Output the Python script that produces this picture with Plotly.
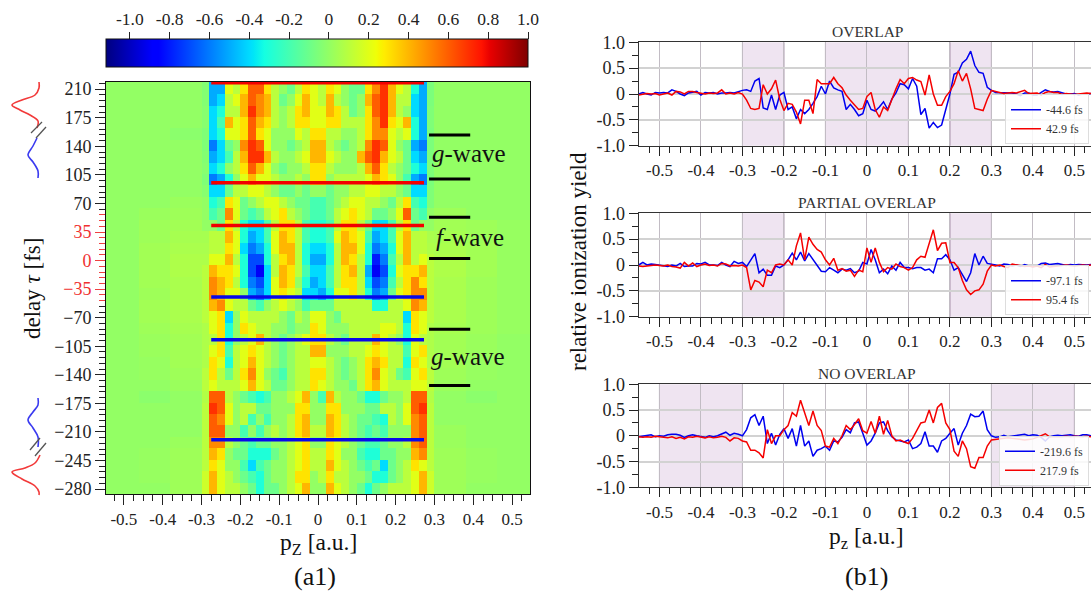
import plotly.graph_objects as go

W, H = 1091, 592
FONT = "Liberation Serif"
INK = "#222222"

# ---------- heatmap data (values in tenths) ----------
pz_edges = [-0.546, -0.46, -0.38, -0.30, -0.28, -0.26, -0.24, -0.22, -0.20, -0.18, -0.16, -0.14, -0.12, -0.10, -0.08,
            -0.06, -0.04, -0.02, 0.0, 0.02, 0.04, 0.06, 0.08, 0.10, 0.12, 0.14, 0.16, 0.18, 0.20, 0.22, 0.24, 0.26,
            0.28, 0.30, 0.38, 0.46, 0.546]
delay_edges = [218.8, 204, 190, 176, 162, 148, 134, 120, 106, 92, 78, 64, 50, 36, 22, 8, -6, -20, -34, -48, -62, -76,
               -90, -104, -118, -132, -146, -160, -174, -188, -202, -216, -230, -244, -258, -272, -286]
inner_rows = [
    [-5,-5,2,1,3,6,6,3,1,0,-1,1,3,2,1,3,2,0,-1,-1,3,5,7,4,2,1,-3,-5],
    [-5,-4,1,2,4,6,5,4,1,-1,0,2,4,2,1,4,1,0,-1,0,4,6,7,4,1,1,-4,-5],
    [-4,-3,1,1,4,7,5,4,1,0,1,3,4,2,2,4,3,1,-1,0,3,6,7,4,1,0,-4,-5],
    [-4,-2,4,2,3,6,4,3,1,0,1,3,3,2,2,3,3,1,1,1,3,5,7,3,2,4,-3,-5],
    [-4,-3,2,2,3,6,3,2,0,0,0,2,1,3,3,1,1,0,0,1,3,5,5,2,1,2,-3,-5],
    [-6,-4,-1,0,5,7,6,2,0,0,-1,0,1,4,4,1,0,-1,0,1,5,7,6,2,0,-1,-5,-6],
    [-5,-4,-2,1,4,7,7,4,1,0,0,1,2,4,4,2,1,0,0,4,6,7,4,2,1,-1,-4,-5],
    [-4,-3,0,1,3,6,4,2,0,-1,0,0,1,3,3,1,0,0,0,1,4,6,3,1,0,-1,-3,-4],
    [-6,-5,-3,0,2,4,2,2,1,0,0,1,0,3,3,0,1,1,1,1,2,4,3,2,0,-2,-5,-6],
    [-4,-4,-1,1,1,2,2,1,0,-1,-1,0,-1,0,0,-1,0,0,1,1,2,2,1,1,0,-1,-4,-4],
    [-3,-2,3,2,-1,0,1,2,2,1,0,-1,-1,-2,-2,-1,0,1,2,2,1,1,0,-1,1,3,-2,-3],
    [-2,-1,5,2,-1,-2,-1,1,2,3,1,0,-1,-2,-2,-1,1,2,3,2,1,-1,-1,0,2,6,-1,-2],
    [0,-1,3,1,-3,-4,-4,-2,1,3,3,1,-2,-3,-3,-2,1,3,3,1,-1,-4,-4,-2,1,3,-1,0],
    [1,1,4,2,-3,-5,-4,-2,2,4,3,1,-2,-3,-3,-2,2,4,3,2,-2,-5,-4,-2,2,4,1,1],
    [1,1,3,2,-4,-6,-5,-3,2,4,4,1,-3,-4,-4,-3,1,4,4,2,-3,-6,-5,-3,2,4,1,1],
    [2,2,4,1,-3,-7,-7,-3,1,3,4,1,-3,-5,-5,-3,1,4,3,1,-3,-8,-6,-2,1,4,1,2],
    [4,3,3,2,-3,-7,-9,-4,1,4,3,1,-2,-4,-4,-2,1,3,4,1,-5,-9,-7,-3,2,3,3,4],
    [5,4,3,1,-3,-6,-7,-4,2,4,3,0,-3,-5,-4,-2,1,3,3,1,-4,-7,-6,-2,1,3,5,3],
    [5,4,2,2,0,-5,-6,-4,2,3,2,1,-4,-4,-5,-3,2,2,3,1,-3,-6,-5,-1,2,3,5,5],
    [4,5,2,1,1,-1,-2,0,1,2,1,0,-2,-1,-1,-1,1,1,1,1,1,-3,-3,1,1,2,5,4],
    [2,3,-4,0,2,1,1,1,1,0,-1,1,0,2,2,0,-1,1,1,1,1,1,1,1,1,-4,3,2],
    [2,3,-3,0,3,2,1,1,0,0,-1,0,0,3,2,0,0,0,1,1,1,1,2,2,1,-3,3,2],
    [1,3,-3,0,1,2,4,1,0,-1,0,1,2,3,3,1,0,-1,1,1,1,4,2,1,0,-3,2,1],
    [2,3,-2,1,2,3,2,1,0,-1,0,1,1,4,4,0,0,0,1,1,2,3,2,1,1,-2,2,3],
    [3,2,-3,1,2,4,2,1,0,-1,0,1,1,2,2,1,0,-1,0,1,3,4,3,1,1,-3,3,2],
    [3,1,-1,1,3,5,2,0,-1,-2,0,1,1,3,3,1,0,-1,0,1,3,5,2,1,-1,-2,2,3],
    [2,1,1,1,2,4,2,1,-1,-1,0,1,1,3,2,1,0,0,-1,1,3,4,2,1,1,1,2,2],
    [6,6,1,0,-1,-2,-3,-2,0,0,1,2,4,0,-2,4,1,0,0,-1,-3,-3,-1,0,0,1,6,6],
    [7,6,2,0,1,1,-1,-1,0,0,0,3,3,0,0,3,3,0,0,0,-1,-1,1,1,0,2,6,7],
    [6,5,2,0,1,-2,0,-2,0,0,1,3,4,0,0,4,3,1,0,-1,-1,-2,-3,1,0,2,5,6],
    [6,6,0,0,-2,0,-2,0,1,0,1,3,4,1,1,4,3,1,0,-1,-2,-1,-2,0,0,0,5,6],
    [5,5,1,0,-1,-2,-1,-1,0,0,1,2,3,0,0,3,2,1,0,-1,-2,-2,-1,0,0,1,5,6],
    [4,3,0,-1,-1,-3,-3,-3,-1,0,1,2,3,1,1,3,2,0,0,-2,-3,-3,-1,-1,0,0,4,5],
    [3,2,0,0,-2,-4,-2,-1,0,0,1,2,3,1,1,4,2,1,0,-1,-2,-1,-4,-1,0,1,3,2],
    [4,2,1,0,-1,-2,-3,-1,0,0,1,3,3,0,1,3,1,1,0,0,-1,-3,-3,-1,0,1,2,4],
    [4,2,1,1,0,-1,-3,-1,-1,0,1,2,4,0,0,4,2,1,0,-1,-3,-1,0,1,1,1,2,4],
]
bg_left = [
    [0,0,0,-.4],[0,0,0,-.4],[0,0,0,-.3],[0,0,0,-.3],[0,0,-.2,-.5],[0,0,0,-.5],[0,0,0,-.4],[0,0,0,-.3],[0,0,0,-.5],[0,0,0,-.3],
    [0,0,.2,0],[0,.2,.3,0],[0,.3,.4,0],[0,.3,.5,.5],[0,.4,.6,.6],[0,.4,.7,.7],[0,.4,.7,1],[0,.4,.6,1],[0,.3,.6,1],[0,.4,.6,1],
    [0,.4,.6,1],[0,.3,.5,.7],[0,.2,.4,.7],[0,.2,.4,.7],[0,.1,.4,.7],[0,.1,.3,1],[0,0,.2,1],[0,-.2,0,.8],[0,0,0,1],[0,0,0,1],
    [0,0,0,1],[0,0,.2,1],[0,.1,.3,1],[0,.1,.3,1],[0,.1,.3,1.5],[0,0,.3,1.5],
]
bg_right = [
    [-.6,0,0,0],[-.6,0,0,0],[-.5,0,0,0],[-.5,0,0,0],[-.6,0,0,0],[-.6,0,0,0],[-.6,0,0,0],[-.5,0,0,0],[-.6,0,0,0],[-.5,0,0,0],
    [-.5,0,0,0],[0,.3,0,0],[0,.4,.3,.1],[.6,.5,.3,.1],[.7,.6,.4,.1],[1,.7,.4,.1],[1,.7,.4,.1],[1,.6,.3,.1],[1,.6,.3,.1],[1,.6,.3,.1],
    [1,.6,.3,.1],[.7,.5,.3,.1],[.7,.4,.2,0],[.7,.4,.2,0],[.7,.4,.1,0],[1,.3,.1,0],[1,.2,0,0],[.8,0,-.2,0],[1,0,0,0],[1,0,0,0],
    [1,.2,0,0],[1,.2,0,0],[1,.3,.1,0],[1,.3,.1,0],[1.5,.3,.1,0],[1.5,.3,0,0],
]
colorbar_ticks = [-1.0, -0.8, -0.6, -0.4, -0.2, 0, 0.2, 0.4, 0.6, 0.8, 1.0]
colorbar_labels = ["-1.0", "-0.8", "-0.6", "-0.4", "-0.2", "0", "0.2", "0.4", "0.6", "0.8", "1.0"]
jet = [[0, "rgb(0,0,127)"], [0.11, "rgb(0,0,255)"], [0.125, "rgb(0,0,255)"], [0.34, "rgb(0,219,255)"],
       [0.35, "rgb(0,230,247)"], [0.375, "rgb(20,255,226)"], [0.64, "rgb(239,255,8)"], [0.65, "rgb(248,245,0)"],
       [0.66, "rgb(255,236,0)"], [0.89, "rgb(255,19,0)"], [0.91, "rgb(232,0,0)"], [1, "rgb(127,0,0)"]]

delays_blue = [-44.6, -97.1, -219.6]
delays_red = [42.9, 95.4, 217.9]
line_span = [-0.275, 0.273]
wave_marks = [154, 100, 53, 2.5, -84, -153]
wave_mark_span = [0.286, 0.392]

delay_ticks_dark = [210, 175, 140, 105, 70, -70, -105, -140, -175, -210, -245, -280]
delay_labels_dark = ["210", "175", "140", "105", "70", "\u221270", "\u2212105", "\u2212140", "\u2212175", "\u2212210",
                     "\u2212245", "\u2212280"]
delay_ticks_red = [35, 0, -35]
delay_labels_red = ["35", "0", "\u221235"]
delay_minor_red = [56, 49, 42, 28, 21, 14, 7, -7, -14, -21, -28, -42, -49]
delay_minor_dark = [217, 203, 196, 189, 182, 168, 161, 154, 147, 133, 126, 119, 112, 98, 91, 84, 77, 63,
                    -56, -63, -77, -84, -91, -98, -112, -119, -126, -133, -147, -154, -161, -168, -182, -189, -196,
                    -203, -217, -224, -231, -238, -252, -259, -266, -273]

pz_ticks = [-0.5, -0.4, -0.3, -0.2, -0.1, 0, 0.1, 0.2, 0.3, 0.4, 0.5]
pz_labels = ["-0.5", "-0.4", "-0.3", "-0.2", "-0.1", "0", "0.1", "0.2", "0.3", "0.4", "0.5"]
pz_minor = [-0.525, -0.475, -0.45, -0.425, -0.375, -0.35, -0.325, -0.275, -0.25, -0.225, -0.175, -0.15, -0.125,
            -0.075, -0.05, -0.025, 0.025, 0.05, 0.075, 0.125, 0.15, 0.175, 0.225, 0.25, 0.275, 0.325, 0.35, 0.375,
            0.425, 0.45, 0.475, 0.525]
yield_ticks = [-1.0, -0.5, 0, 0.5, 1.0]
yield_labels = ["-1.0", "-0.5", "0", "0.5", "1.0"]
yield_minor = [-0.75, -0.25, 0.25, 0.75]

# ---------- line data ----------
pz = [-0.55, -0.54, -0.53, -0.52, -0.51, -0.50, -0.49, -0.48, -0.47, -0.46, -0.45, -0.44, -0.43, -0.42, -0.41, -0.40,
      -0.39, -0.38, -0.37, -0.36, -0.35, -0.34, -0.33, -0.32, -0.31,
      -0.30, -0.29, -0.28, -0.27, -0.26, -0.25, -0.24, -0.23, -0.22, -0.21, -0.20, -0.19, -0.18, -0.17, -0.16, -0.15,
      -0.14, -0.13, -0.12, -0.11, -0.10, -0.09, -0.08, -0.07, -0.06, -0.05, -0.04, -0.03, -0.02, -0.01, 0.0, 0.01,
      0.02, 0.03, 0.04, 0.05, 0.06, 0.07, 0.08, 0.09, 0.10, 0.11, 0.12, 0.13, 0.14, 0.15, 0.16, 0.17, 0.18, 0.19,
      0.20, 0.21, 0.22, 0.23, 0.24, 0.25, 0.26, 0.27, 0.28, 0.29, 0.30,
      0.31, 0.32, 0.33, 0.34, 0.35, 0.36, 0.37, 0.38, 0.39, 0.40, 0.41, 0.42, 0.43, 0.44, 0.45, 0.46, 0.47, 0.48,
      0.49, 0.50, 0.51, 0.52, 0.53, 0.54]

b1 = [0, .03, 0, -.02, .03, .02, .03, .02, .08, .05, 0, -.03, .02, .03, .05, -.02, .03, .02, .03, 0, .02, .02, .03, .02, .05,
      .07, .08, .05, .25, .3, -.27, -.3, -.02, -.3, -.02, .03, -.3, -.25, -.48, -.3, -.38, -.3, -.18, -.05, .15, 0, .25,
      .12, .08, .05, -.3, -.2, -.3, -.42, -.38, -.12, -.3, -.33, -.25, -.15, -.3, -.1, .02, .2, .18, .1, .3, .15, -.4,
      -.28, -.66, -.55, -.65, -.6, -.3, 0, .38, .42, .6, .67, .83, .55, .42, .4, .13, .07,
      .03, .03, .02, .03, .02, 0, -.03, .02, .02, -.02, -.02, .03, .08, .05, .04, .05, .02, 0, 0, .01, -.02, 0, 0, .01]
r1 = [-.02, 0, .01, 0, .01, -.02, 0, .02, -.02, .05, .04, 0, .05, .05, .03, .02, 0, .02, .01, .02, .08, 0, .02, 0, .03,
      0, -.12, -.28, -.3, -.28, .18, 0, .1, .27, -.1, -.32, -.18, -.2, -.35, -.58, -.12, -.12, -.38, .28, .2, .2, .2,
      .32, .2, .12, -.02, -.12, -.2, -.3, -.28, -.05, .03, -.3, -.45, -.25, -.32, -.1, .1, .28, .2, .3, .32, .27, .24,
      -.02, .37, 0, -.22, -.22, -.05, .05, .2, .45, .25, .4, .1, -.28, -.3, -.32, -.1, .07,
      .05, .03, .01, .02, .03, .02, .04, .07, .01, .02, .02, -.02, .03, .05, .03, .03, -.01, .01, 0, -.01, 0, .01, .02, .01]
b2 = [0, .05, 0, .02, .01, 0, -.02, -.03, 0, -.02, .03, -.03, -.02, -.02, .03, .02, .05, 0, 0, -.01, .05, 0, -.03, .07, .03,
      .05, -.03, .1, .22, -.15, -.08, -.2, -.2, -.02, -.05, 0, .1, .23, .1, .25, .08, .22, .1, 0, -.12, -.13, -.05, -.1,
      -.15, -.08, -.1, -.07, -.15, -.12, .05, .02, .3, .1, -.15, -.08, -.17, -.02, -.1, .05, -.05, -.05, -.07, -.05,
      -.05, -.1, -.08, -.15, .12, .12, .2, .1, -.1, -.05, -.2, -.32, -.15, .22, 0, .17, .03, .02,
      0, -.02, .02, .01, -.02, 0, -.03, .01, -.02, -.03, -.02, .03, .04, .01, .02, .03, .01, -.01, .01, 0, .01, 0, 0, .01]
r2 = [-.02, -.03, -.02, -.01, 0, -.01, -.02, 0, -.03, -.04, -.06, .05, -.02, .04, -.03, 0, .02, -.01, 0, -.02, .03, .02, -.02, -.01, -.02,
      0, -.05, -.48, -.3, -.33, -.42, -.1, -.15, 0, .02, 0, .1, 0, .37, .62, .1, .54, .4, .3, .25, .1, 0, .13, -.1, -.07,
      -.12, -.1, -.22, -.1, -.13, .33, .05, .33, .05, -.13, -.05, -.08, .02, -.03, -.05, -.1, -.05, .1, .17, .15, .4,
      .68, .28, .42, .43, .05, .05, -.05, -.3, -.48, -.57, -.5, -.48, -.37, -.12, 0,
      -.02, 0, -.03, -.05, .02, 0, -.01, -.03, -.02, -.04, -.02, -.05, .01, -.04, -.03, -.02, -.02, 0, -.01, -.02, -.01, 0, -.01, 0]
b3 = [-.02, -.01, 0, .02, -.02, 0, -.01, .02, .03, .03, .01, -.03, 0, .02, 0, -.01, -.03, 0, -.02, 0, .03, .07, .01, .05, .03,
      0, .12, .35, .41, .2, .38, -.15, .05, -.18, .03, .14, -.05, .14, -.2, .2, -.2, -.1, -.4, -.28, -.25, -.2, -.28,
      -.1, -.12, -.03, .12, .06, .25, .27, .05, -.18, -.1, .05, .25, .27, .1, -.02, -.08, -.1, -.12, -.08, -.25, -.22,
      -.15, .08, -.2, -.2, -.32, -.1, -.05, .05, .14, -.18, .05, .2, .42, .37, .38, .48, .12, 0,
      -.03, -.02, .01, -.02, -.01, 0, .02, .03, 0, .02, .01, -.03, -.1, -.02, 0, .01, 0, .01, .02, 0, -.01, .02, .02, 0]
r3 = [-.02, -.03, -.02, -.03, -.01, -.02, -.03, -.04, -.02, -.05, -.03, -.06, -.02, -.03, -.01, -.03, -.04, -.02, -.04, -.03, -.01, -.03, -.1, -.04, -.05,
      -.1, -.12, -.28, -.28, -.33, -.43, .12, -.15, 0, 0, .12, .2, .45, .38, .69, .43, .2, .48, .2, .1, -.2, -.22, -.05,
      -.15, 0, .2, .12, .22, .33, .1, .05, .28, .05, .38, .03, .3, 0, -.1, -.08, -.12, -.15, -.05, .1, .25, .27, .5, .25,
      .55, .63, .25, .12, -.3, -.4, -.1, -.25, -.6, -.63, -.42, -.42, -.2, -.08,
      -.07, -.06, -.05, -.04, -.05, -.06, -.07, -.08, -.07, -.06, -.03, .0, .04, -.02, -.02, -.03, -.02, -.01, -.02, -.01, -.02, -.02, -.01, -.02]

bands1 = [[-0.3, -0.2], [-0.1, 0.1], [0.2, 0.3]]
bands2 = [[-0.3, -0.2], [0.2, 0.3]]
bands3 = [[-0.5, -0.3], [0.3, 0.5]]

panels = [
    ("OVERLAP", "-44.6 fs", b1, "42.9 fs", r1, bands1),
    ("PARTIAL OVERLAP", "-97.1 fs", b2, "95.4 fs", r2, bands2),
    ("NO OVERLAP", "-219.6 fs", b3, "217.9 fs", r3, bands3),
]

# pulse sketches in the left margin
pulse_red_top_x = [39, 39, 35, 22, 12, 20, 30, 38, 37]
pulse_red_top_y = [82, 88, 95, 100, 105, 110, 115, 121, 128]
pulse_blue_top_x = [37, 33, 28, 33, 38, 38]
pulse_blue_top_y = [138, 146, 155, 162, 171, 178]
pulse_blue_bot_x = [38, 38, 33, 28, 33, 38, 38]
pulse_blue_bot_y = [398, 405, 412, 420, 428, 437, 447]
pulse_red_bot_x = [40, 35, 25, 12, 22, 35, 39, 39]
pulse_red_bot_y = [455, 463, 468, 472, 479, 486, 492, 495]
slashes = [([31, 42], [133, 122]), ([36, 46], [138, 127]), ([30, 40], [450, 438]), ([35, 46], [456, 443])]


def dom_x(a, b):
    return [a / W, b / W]


def dom_y(top, bottom):
    return [1 - bottom / H, 1 - top / H]


fig = go.Figure()

# ---------- heatmap ----------
z = [[v / 10 for v in (l + row + r)] for l, row, r in zip(bg_left, inner_rows, bg_right)]
fig.add_trace(go.Heatmap(
    z=z, x=pz_edges, y=delay_edges, zmin=-1.12, zmax=1.0, colorscale=jet, showlegend=False, hoverinfo="skip",
    xaxis="x", yaxis="y",
    colorbar=dict(orientation="h", x=106 / W, xanchor="left", y=1 - 68 / H, yanchor="bottom", yref="paper",
                  lenmode="pixels", len=422, thicknessmode="pixels", thickness=28, xpad=0, ypad=0,
                  outlinecolor="#111111", outlinewidth=1, ticks="", showticklabels=False),
))
for delays, color in ((delays_red, "#f20000"), (delays_blue, "#0808e8")):
    for d in delays:
        fig.add_trace(go.Scatter(x=line_span, y=[d, d], mode="lines", line=dict(color=color, width=3.5),
                                 showlegend=False, hoverinfo="skip", xaxis="x", yaxis="y"))
for d in wave_marks:
    fig.add_trace(go.Scatter(x=wave_mark_span, y=[d, d], mode="lines", line=dict(color="#000000", width=3),
                             showlegend=False, hoverinfo="skip", xaxis="x", yaxis="y"))
# red-tick overlay axis
fig.add_trace(go.Scatter(x=[0], y=[0], mode="markers", marker=dict(opacity=0), showlegend=False, hoverinfo="skip",
                         xaxis="x", yaxis="y8"))
# colour-bar scale axis (labels above the bar)
fig.add_trace(go.Scatter(x=[0], y=[0], mode="markers", marker=dict(opacity=0), showlegend=False, hoverinfo="skip",
                         xaxis="x7", yaxis="y7"))

heat_range_y = [-286, 218.8]
layout = dict(
    width=W, height=H, autosize=False, margin=dict(l=0, r=0, t=0, b=0, autoexpand=False),
    paper_bgcolor="white", plot_bgcolor="white",
    font=dict(family=FONT, color=INK),
    xaxis=dict(domain=dom_x(106, 530), range=[-0.546, 0.546], tickmode="array", tickvals=pz_ticks, ticktext=pz_labels,
               ticks="outside", ticklen=10, tickcolor=INK, tickwidth=1.2, showgrid=False, zeroline=False,
               showline=True, linecolor="#111111", linewidth=1, mirror=True, anchor="y",
               tickfont=dict(family=FONT, size=17, color=INK),
               minor=dict(ticks="outside", tickmode="array", tickvals=pz_minor, ticklen=6, tickcolor=INK, showgrid=False)),
    yaxis=dict(domain=dom_y(82, 494), range=heat_range_y, tickmode="array", tickvals=delay_ticks_dark,
               ticktext=delay_labels_dark, ticks="outside", ticklen=10, tickwidth=1.2, tickcolor=INK, showgrid=False,
               zeroline=False, showline=True, linecolor="#111111", linewidth=1, mirror=True, anchor="x",
               tickfont=dict(family=FONT, size=18, color=INK),
               minor=dict(ticks="outside", tickmode="array", tickvals=delay_minor_dark, ticklen=6, tickcolor=INK,
                          showgrid=False)),
    yaxis8=dict(domain=dom_y(82, 494), range=heat_range_y, overlaying="y", anchor="x", side="left", tickmode="array",
                tickvals=delay_ticks_red, ticktext=delay_labels_red, ticks="outside", ticklen=10, tickwidth=1.2,
                tickcolor="#f04040", showgrid=False, zeroline=False, showline=False,
                tickfont=dict(family=FONT, size=18, color="#f03030"),
                minor=dict(ticks="outside", tickmode="array", tickvals=delay_minor_red, ticklen=6, tickcolor="#f04040",
                           showgrid=False)),
    xaxis7=dict(domain=dom_x(106, 528), range=[-1.12, 1.0], side="top", anchor="y7", tickmode="array",
                tickvals=colorbar_ticks, ticktext=colorbar_labels, ticks="outside", ticklen=7, tickwidth=1.1,
                tickcolor=INK, showgrid=False, zeroline=False, showline=False,
                tickfont=dict(family=FONT, size=17.5, color=INK)),
    yaxis7=dict(domain=dom_y(40, 68), range=[0, 1], visible=False, anchor="x7"),
    xaxis9=dict(domain=dom_x(0, 60), range=[0, 60], visible=False, anchor="y9", fixedrange=True),
    yaxis9=dict(domain=dom_y(70, 510), range=[510, 70], visible=False, anchor="x9", fixedrange=True),
)

# ---------- pulse sketches ----------
for xs, ys, color in ((pulse_red_top_x, pulse_red_top_y, "#f23a3a"), (pulse_blue_top_x, pulse_blue_top_y, "#3a3af0"),
                      (pulse_blue_bot_x, pulse_blue_bot_y, "#3a3af0"), (pulse_red_bot_x, pulse_red_bot_y, "#f23a3a")):
    fig.add_trace(go.Scatter(x=xs, y=ys, mode="lines", line=dict(color=color, width=1.6, shape="spline", smoothing=1.0),
                             showlegend=False, hoverinfo="skip", xaxis="x9", yaxis="y9"))
for xs, ys in slashes:
    fig.add_trace(go.Scatter(x=xs, y=ys, mode="lines", line=dict(color="#555555", width=1.3), showlegend=False,
                             hoverinfo="skip", xaxis="x9", yaxis="y9"))

# ---------- right panels ----------
panel_tops = [(42.3, 145.7), (213.3, 316.7), (384.3, 487.3)]
shapes = []
annotations = []
for i, ((title, lab_b, yb, lab_r, yr, bands), (top, bottom)) in enumerate(zip(panels, panel_tops)):
    n = i + 2
    xname, yname = f"x{n}", f"y{n}"
    legend_name = "legend" if i == 0 else f"legend{i + 1}"
    fig.add_trace(go.Scatter(x=pz, y=yb, mode="lines", name=lab_b, line=dict(color="#0000f0", width=1.5),
                             xaxis=xname, yaxis=yname, legend=legend_name, hoverinfo="skip"))
    fig.add_trace(go.Scatter(x=pz, y=yr, mode="lines", name=lab_r, line=dict(color="#f50000", width=1.5),
                             xaxis=xname, yaxis=yname, legend=legend_name, hoverinfo="skip"))
    layout[f"xaxis{n}"] = dict(domain=dom_x(638.7, 1091), range=[-0.55, 0.54], tickmode="array", tickvals=pz_ticks,
                               ticktext=pz_labels, ticks="outside", ticklen=9, tickcolor=INK, tickwidth=1.2,
                               showgrid=True, gridcolor="#c2bcc4", gridwidth=1.2, zeroline=False, showline=True,
                               linecolor="#333333", linewidth=1.2, mirror=True, anchor=yname,
                               tickfont=dict(family=FONT, size=17, color=INK),
                               minor=dict(ticks="outside", tickmode="array", tickvals=pz_minor, ticklen=6,
                                          tickcolor=INK, showgrid=False))
    layout[f"yaxis{n}"] = dict(domain=dom_y(top, bottom), range=[-1, 1], tickmode="array", tickvals=yield_ticks,
                               ticktext=yield_labels, ticks="outside", ticklen=9, tickcolor=INK, tickwidth=1.2,
                               showgrid=True, gridcolor="#d2d2d2", gridwidth=1.5, zeroline=False, showline=True,
                               linecolor="#333333", linewidth=1.2, anchor=xname,
                               tickfont=dict(family=FONT, size=18, color=INK),
                               minor=dict(ticks="outside", tickmode="array", tickvals=yield_minor, ticklen=6,
                                          tickcolor=INK, showgrid=False))
    layout[legend_name] = dict(x=1089 / W, xanchor="right", y=1 - (bottom - 1.5) / H, yanchor="bottom",
                               bgcolor="rgba(255,255,255,0.85)", bordercolor="#dddddd", borderwidth=1,
                               font=dict(family=FONT, size=12, color="#333333"), itemwidth=30,
                               tracegroupgap=0, itemclick=False)
    for a, b in bands:
        shapes.append(dict(type="rect", xref=xname, yref=f"{yname} domain", x0=a, x1=b, y0=0, y1=1, layer="below",
                           fillcolor="#efe4f1", line=dict(width=0)))
        for edge in (a, b):
            shapes.append(dict(type="line", xref=xname, yref=f"{yname} domain", x0=edge, x1=edge, y0=0, y1=1,
                               layer="below", line=dict(color="rgba(125,95,130,0.75)", width=1)))
    annotations.append(dict(text=title, x=867 / W, y=1 - (top - 10.5) / H, xref="paper", yref="paper", showarrow=False,
                            xanchor="center", yanchor="middle", font=dict(family=FONT, size=15.5, color="#333333")))


def note(text, x, y, size, angle=0, color="#111111"):
    annotations.append(dict(text=text, x=x / W, y=1 - y / H, xref="paper", yref="paper", showarrow=False,
                            xanchor="center", yanchor="middle", textangle=angle,
                            font=dict(family=FONT, size=size, color=color)))


note("delay <i>\u03c4</i> [fs]", 32, 289, 23, -90)
note("p<sub>Z</sub> [a.u.]", 318, 544, 23.5)
note("(a1)", 315, 576, 26)
note("<i>g</i>-wave", 469, 154, 25)
note("<i>f</i>-wave", 470, 237, 25)
note("<i>g</i>-wave", 468, 356, 25)
note("relative ionization yield", 578, 262, 23, -90)
note("p<sub>z</sub> [a.u.]", 866, 538, 23.5)
note("(b1)", 866, 576, 26)

layout["shapes"] = shapes
layout["annotations"] = annotations
fig.update_layout(**layout)

fig.write_html("out.html", config={"displayModeBar": False},
               post_script="document.body.style.margin='0';document.documentElement.style.overflow='hidden';")
